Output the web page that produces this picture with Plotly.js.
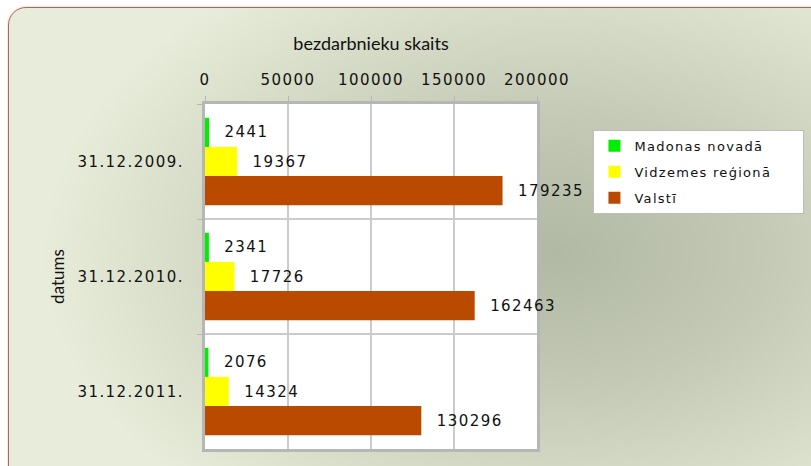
<!DOCTYPE html>
<html>
<head>
<meta charset="utf-8">
<script src="https://cdn.plot.ly/plotly-3.0.1.min.js"></script>
<style>
  html, body { margin: 0; padding: 0; background: #ffffff; }
  #wrap { position: relative; width: 811px; height: 466px; overflow: hidden; background: #ffffff; }
  #bg { position: absolute; left: 8px; top: 7px; width: 830px; height: 490px;
        border: 1.5px solid #b4625c; border-radius: 18px;
        background: radial-gradient(ellipse 62% 68% at 66% 50%, #b1b8a3 0%, #c3c9b4 40%, #d8dec9 75%, #e7edda 100%);
        box-shadow: 0 0 2px rgba(120,60,50,0.4); }
  #chart { position: absolute; left: 0; top: 0; width: 811px; height: 466px; }
  .xtick text, .ytick text, .bartext { letter-spacing: 1.45px; }
  .legendtext { letter-spacing: 1.3px; }
</style>
</head>
<body>
<div id="wrap">
  <div id="bg"></div>
  <div id="chart"></div>
</div>
<script>
const categories = ['31.12.2009.', '31.12.2010.', '31.12.2011.'];
const seriesNames = ['Madonas novadā', 'Vidzemes reģionā', 'Valstī'];
const madonas = [2441, 2341, 2076];
const vidzemes = [19367, 17726, 14324];
const valsti = [179235, 162463, 130296];
const colors = ['#00ee00', '#ffff00', '#b94a00'];
const xTickVals = [0, 50000, 100000, 150000, 200000];
const xTitle = 'bezdarbnieku skaits';
const yTitle = 'datums';

const seriesValues = [madonas, vidzemes, valsti];
const labelFont = { family: 'DejaVu Sans, Verdana, sans-serif', size: 15, color: '#111111' };
const titleFont = 'Lato, Carlito, Calibri, sans-serif';
const legendPad = '\u00a0\u00a0\u00a0\u00a0\u00a0';

const traces = seriesValues.map((vals, i) => ({
  type: 'bar',
  orientation: 'h',
  name: seriesNames[i] + legendPad,
  y: categories,
  x: vals,
  marker: { color: colors[i], line: { width: 0 } },
  text: vals.map(v => '\u00a0\u00a0' + v),
  textposition: 'outside',
  textfont: labelFont,
  constraintext: 'none',
  cliponaxis: false,
  hoverinfo: 'x+name',
  legendgroup: 'g' + i
}));

const layout = {
  width: 811,
  height: 466,
  paper_bgcolor: 'rgba(0,0,0,0)',
  plot_bgcolor: '#ffffff',
  margin: { l: 205, r: 274, t: 104, b: 17, autoexpand: false },
  barmode: 'group',
  bargap: 0.24,
  bargroupgap: 0,
  showlegend: true,
  legend: {
    x: 1.17, y: 0.925, xanchor: 'left', yanchor: 'top',
    bgcolor: '#ffffff', bordercolor: '#bdbdbd', borderwidth: 1,
    font: { family: 'DejaVu Sans, Verdana, sans-serif', size: 13, color: '#111111' },
    traceorder: 'grouped', tracegroupgap: 6
  },
  xaxis: {
    side: 'top',
    layer: 'below traces',
    range: [0, 200000],
    tickvals: xTickVals,
    ticktext: xTickVals.map(String),
    showgrid: true, gridcolor: '#cbcbcb', gridwidth: 1.2,
    zeroline: false,
    showline: true, mirror: true, linecolor: '#b6b6b6', linewidth: 3,
    ticks: 'outside', ticklen: 5, tickcolor: '#b6b6b6',
    ticklabelstandoff: 5,
    tickfont: { family: 'DejaVu Sans, Verdana, sans-serif', size: 15, color: '#111111' },
    title: { text: xTitle, standoff: 16, font: { family: titleFont, size: 18, color: '#111111' } },
    fixedrange: true
  },
  yaxis: {
    type: 'category',
    autorange: 'reversed',
    layer: 'below traces',
    tickson: 'boundaries',
    showgrid: true, gridcolor: '#cbcbcb', gridwidth: 1.2,
    showline: true, mirror: true, linecolor: '#b6b6b6', linewidth: 3,
    ticks: 'outside', ticklen: 5, tickcolor: '#b6b6b6',
    ticklabelstandoff: 15,
    tickfont: { family: 'DejaVu Sans, Verdana, sans-serif', size: 15, color: '#111111' },
    title: { text: yTitle, standoff: 9, font: { family: titleFont, size: 17, color: '#111111' } },
    fixedrange: true
  }
};

Plotly.newPlot('chart', traces, layout, { displayModeBar: false, staticPlot: true });
</script>
</body>
</html>
